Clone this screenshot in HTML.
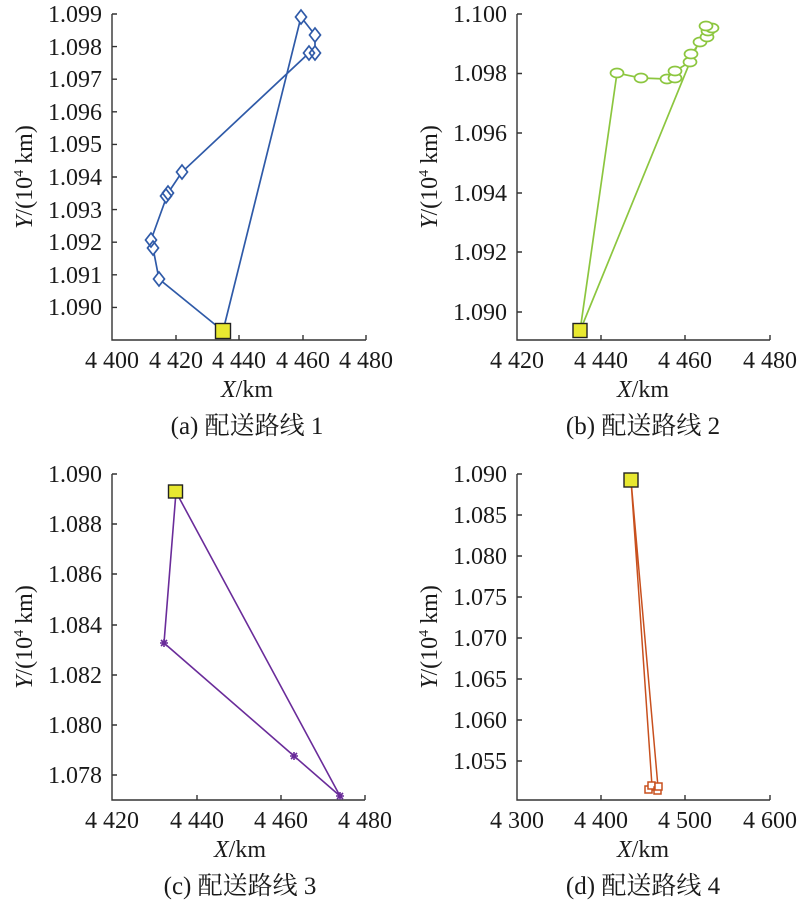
<!DOCTYPE html>
<html><head><meta charset="utf-8"><style>
body{margin:0;background:#fff}
svg{display:block}
text{font-family:"Liberation Serif","Noto Serif CJK SC",serif;fill:#1a1a1a}
.t{font-size:24px}
.c{font-size:25px}
</style></head><body>
<svg width="800" height="904" viewBox="0 0 800 904">
<g stroke="#333" stroke-width="1.4" fill="none">
<path d="M112,14V340H366"/>
<path d="M112,14h5M112,46.6h5M112,79.2h5M112,111.8h5M112,144.4h5M112,177h5M112,209.6h5M112,242.2h5M112,274.8h5M112,307.4h5"/>
<path d="M176,340v-5M239,340v-5M303,340v-5M366,340v-5"/>
<path d="M517,14V340H770"/>
<path d="M517,14h5M517,73.5h5M517,133h5M517,193h5M517,252h5M517,312h5"/>
<path d="M601,340v-5M685,340v-5M770,340v-5"/>
<path d="M112,474V800H365"/>
<path d="M112,474h5M112,524h5M112,574h5M112,625h5M112,675h5M112,725h5M112,775h5"/>
<path d="M197,800v-5M281,800v-5M365,800v-5"/>
<path d="M517,474V800H770"/>
<path d="M517,474h5M517,515h5M517,556h5M517,597h5M517,638h5M517,679h5M517,720h5M517,761h5"/>
<path d="M601,800v-5M685,800v-5M770,800v-5"/>
</g>
<g class="t" text-anchor="end">
<text x="102" y="22">1.099</text><text x="102" y="55">1.098</text><text x="102" y="87">1.097</text><text x="102" y="120">1.096</text><text x="102" y="152">1.095</text><text x="102" y="185">1.094</text><text x="102" y="218">1.093</text><text x="102" y="250">1.092</text><text x="102" y="283">1.091</text><text x="102" y="315">1.090</text>
<text x="507" y="22">1.100</text><text x="507" y="81">1.098</text><text x="507" y="141">1.096</text><text x="507" y="201">1.094</text><text x="507" y="260">1.092</text><text x="507" y="320">1.090</text>
<text x="102" y="482">1.090</text><text x="102" y="532">1.088</text><text x="102" y="582">1.086</text><text x="102" y="633">1.084</text><text x="102" y="683">1.082</text><text x="102" y="733">1.080</text><text x="102" y="783">1.078</text>
<text x="507" y="482">1.090</text><text x="507" y="523">1.085</text><text x="507" y="564">1.080</text><text x="507" y="605">1.075</text><text x="507" y="646">1.070</text><text x="507" y="687">1.065</text><text x="507" y="728">1.060</text><text x="507" y="769">1.055</text>
</g>
<g class="t" text-anchor="middle">
<text x="112" y="368">4 400</text><text x="176" y="368">4 420</text><text x="239" y="368">4 440</text><text x="303" y="368">4 460</text><text x="366" y="368">4 480</text>
<text x="517" y="368">4 420</text><text x="601" y="368">4 440</text><text x="685" y="368">4 460</text><text x="770" y="368">4 480</text>
<text x="112" y="828">4 420</text><text x="197" y="828">4 440</text><text x="281" y="828">4 460</text><text x="365" y="828">4 480</text>
<text x="517" y="828">4 300</text><text x="601" y="828">4 400</text><text x="685" y="828">4 500</text><text x="770" y="828">4 600</text>
<text x="247" y="397"><tspan font-style="italic">X</tspan>/km</text>
<text x="643" y="397"><tspan font-style="italic">X</tspan>/km</text>
<text x="240" y="857"><tspan font-style="italic">X</tspan>/km</text>
<text x="643" y="857"><tspan font-style="italic">X</tspan>/km</text>
</g>
<g class="t" text-anchor="middle">
<text transform="translate(32,177) rotate(-90)"><tspan font-style="italic">Y</tspan>/(10<tspan font-size="14" dy="-9">4</tspan><tspan dy="9"> km)</tspan></text>
<text transform="translate(437,177) rotate(-90)"><tspan font-style="italic">Y</tspan>/(10<tspan font-size="14" dy="-9">4</tspan><tspan dy="9"> km)</tspan></text>
<text transform="translate(32,637) rotate(-90)"><tspan font-style="italic">Y</tspan>/(10<tspan font-size="14" dy="-9">4</tspan><tspan dy="9"> km)</tspan></text>
<text transform="translate(437,637) rotate(-90)"><tspan font-style="italic">Y</tspan>/(10<tspan font-size="14" dy="-9">4</tspan><tspan dy="9"> km)</tspan></text>
</g>
<g class="c" text-anchor="middle">
<text x="247" y="434">(a) 配送路线 1</text>
<text x="643" y="434">(b) 配送路线 2</text>
<text x="240" y="894">(c) 配送路线 3</text>
<text x="643" y="894">(d) 配送路线 4</text>
</g>
<g stroke="#2f5aa8" stroke-width="1.7" fill="#fff">
<polyline fill="none" points="223,331 159,279 153,248 151,240 168,193 182,172 309,53 315,53 315,35 301,17 223,331"/>
<path d="M301,10l5.5,7-5.5,7-5.5-7zM315,28l5.5,7-5.5,7-5.5-7zM309,46l5.5,7-5.5,7-5.5-7zM315,46l5.5,7-5.5,7-5.5-7zM182,165l5.5,7-5.5,7-5.5-7zM166,189l5.5,7-5.5,7-5.5-7zM168,186l5.5,7-5.5,7-5.5-7zM151,233l5.5,7-5.5,7-5.5-7zM153,241l5.5,7-5.5,7-5.5-7zM159,272l5.5,7-5.5,7-5.5-7z"/>
</g>
<rect x="215.5" y="323.5" width="15" height="15" fill="#e8e830" stroke="#222" stroke-width="1.4"/>
<g stroke="#8cc63f" stroke-width="1.7" fill="#fff">
<polyline fill="none" points="580,331 617,73 641,78 667,79 675,78 675,71 690,62 691,55 700,42 707,37 708,31 712,28 706,26 690,62 580,331"/>
<ellipse cx="617" cy="73" rx="6.5" ry="4.5"/><ellipse cx="641" cy="78" rx="6.5" ry="4.5"/><ellipse cx="667" cy="79" rx="6.5" ry="4.5"/><ellipse cx="675" cy="78" rx="6.5" ry="4.5"/><ellipse cx="675" cy="71" rx="6.5" ry="4.5"/><ellipse cx="690" cy="62" rx="6.5" ry="4.5"/><ellipse cx="691" cy="54" rx="6.5" ry="4.5"/><ellipse cx="700" cy="42" rx="6.5" ry="4.5"/><ellipse cx="707" cy="37" rx="6.5" ry="4.5"/><ellipse cx="708" cy="31" rx="6.5" ry="4.5"/><ellipse cx="712" cy="28" rx="6.5" ry="4.5"/><ellipse cx="706" cy="26" rx="6.5" ry="4.5"/>
</g>
<rect x="573" y="323.5" width="14" height="14" fill="#e8e830" stroke="#222" stroke-width="1.4"/>
<g stroke="#6a2c9a" stroke-width="1.6" fill="none">
<polyline points="176,492 164,643 294,756 340,796 176,492"/>
<path d="M160,643h8M164,639v8M161,640l6,6M167,640l-6,6M290,756h8M294,752v8M291,753l6,6M297,753l-6,6M336,796h8M340,792v8M337,793l6,6M343,793l-6,6"/>
</g>
<rect x="168.5" y="485" width="14" height="13" fill="#e8e830" stroke="#222" stroke-width="1.4"/>
<g stroke="#c8501e" stroke-width="1.5" fill="#fff">
<polyline fill="none" points="631,480 652,786 649,790 657,790 658,787 631,480"/>
<rect x="645" y="786" width="7" height="7"/><rect x="648" y="782" width="7" height="7"/><rect x="654" y="787" width="7" height="7"/><rect x="655" y="783" width="7" height="7"/>
</g>
<rect x="624" y="473" width="14" height="14" fill="#e8e830" stroke="#222" stroke-width="1.4"/>
</svg>
</body></html>
